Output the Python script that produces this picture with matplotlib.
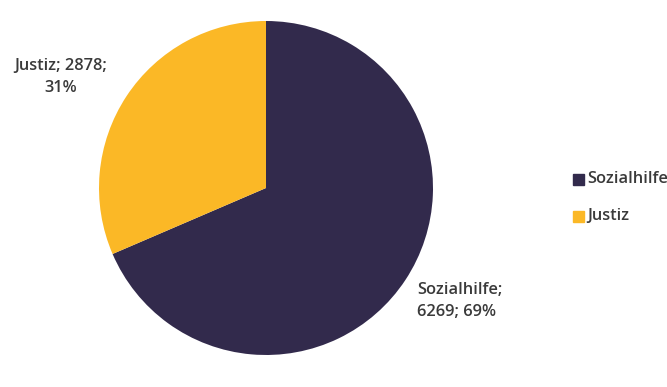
import matplotlib.pyplot as plt
from matplotlib.patches import Rectangle

# data
labels = ["Sozialhilfe", "Justiz"]
values = [6269, 2878]
colors = ["#322a4c", "#fbb826"]

W, H = 667, 387
fig = plt.figure(figsize=(W / 100, H / 100), dpi=100)
plt.rcParams['font.family'] = ['Open Sans', 'DejaVu Sans']

cx, cy, r = 266, 188, 167
ax = fig.add_axes([(cx - r) / W, (H - cy - r) / H, 2 * r / W, 2 * r / H])
ax.pie(values, colors=colors, startangle=90, counterclock=False,
       wedgeprops=dict(linewidth=0))
ax.set_xlim(-1, 1)
ax.set_ylim(-1, 1)
ax.set_aspect('equal')

total = sum(values)
pct = [round(v / total * 100) for v in values]
txt_color = "#3a3a3a"
fs = 11.8
# data labels
fig.text(417 / W, 1 - 301 / H,
         f"{labels[0]};\n{values[0]}; {pct[0]}%",
         ha='left', va='center', fontsize=fs, color=txt_color,
         linespacing=1.45, fontweight='semibold')
fig.text(61 / W, 1 - 77 / H,
         f"{labels[1]}; {values[1]};\n{pct[1]}%",
         ha='center', va='center', fontsize=fs, color=txt_color,
         linespacing=1.45, fontweight='semibold')

# legend
for i, (lab, col) in enumerate(zip(labels, colors)):
    y = 179 + i * 37
    fig.patches.append(Rectangle((573 / W, 1 - (y + 6) / H), 11 / W, 11 / H,
                                 transform=fig.transFigure, color=col))
    fig.text(587 / W, 1 - y / H, lab, ha='left', va='center',
             fontsize=fs, color=txt_color, fontweight='semibold')

fig.savefig("out.png", dpi=100)
